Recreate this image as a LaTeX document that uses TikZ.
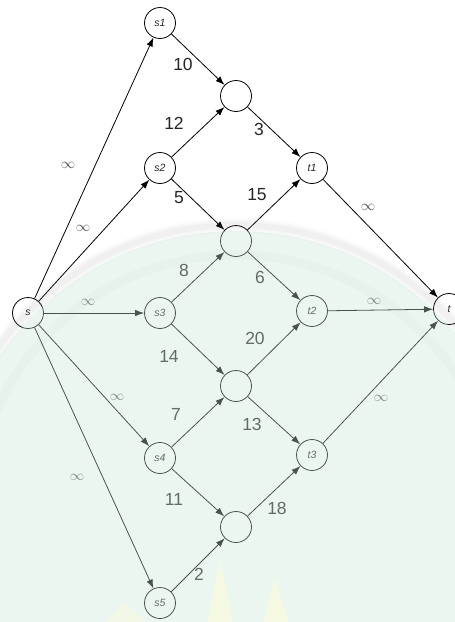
\documentclass[tikz,border=0pt]{standalone}
\usepackage{fontspec}
\setmainfont{Liberation Sans}
\usetikzlibrary{arrows.meta}
\definecolor{mint}{RGB}{200,232,214}
\definecolor{cream}{RGB}{255,252,215}
\begin{document}
\begin{tikzpicture}[x=1pt,y=-1pt,
  vtx/.style={circle,draw=black,line width=0.8pt,minimum size=31pt,inner sep=0pt,
    font=\fontsize{10.5}{12}\selectfont\itshape,text=black!85},
  edge/.style={line width=0.8pt,-{Latex[length=9pt,width=6.5pt]}},
  num/.style={font=\fontsize{17.5}{20}\selectfont,text=black!85,inner sep=0pt},
  inf/.style={font=\fontsize{14}{16}\selectfont,text=black!68,inner sep=0pt}]
\fill[white] (0,0) rectangle (455,622);
\useasboundingbox (0,0) rectangle (455,622);
% nodes
\node[vtx] (s)  at (28,313)  {s};
\node[vtx] (s1) at (160,23)  {s1};
\node[vtx] (s2) at (160,168) {s2};
\node[vtx] (s3) at (160,313) {s3};
\node[vtx] (s4) at (160,458) {s4};
\node[vtx] (s5) at (160,603) {s5};
\node[vtx] (a1) at (236,96)  {};
\node[vtx] (a2) at (236,241) {};
\node[vtx] (a3) at (236,386) {};
\node[vtx] (a4) at (236,527) {};
\node[vtx] (t1) at (312,168) {t1};
\node[vtx] (t2) at (312,311) {t2};
\node[vtx] (t3) at (312,455) {t3};
\node[vtx] (t)  at (449,309) {t};
% edges
\draw[edge] (s) -- (s1);
\draw[edge] (s) -- (s2);
\draw[edge] (s) -- (s3);
\draw[edge] (s) -- (s4);
\draw[edge] (s) -- (s5);
\draw[edge] (s1) -- (a1);
\draw[edge] (s2) -- (a1);
\draw[edge] (a1) -- (t1);
\draw[edge] (s2) -- (a2);
\draw[edge] (a2) -- (t1);
\draw[edge] (s3) -- (a2);
\draw[edge] (a2) -- (t2);
\draw[edge] (s3) -- (a3);
\draw[edge] (a3) -- (t2);
\draw[edge] (s4) -- (a3);
\draw[edge] (a3) -- (t3);
\draw[edge] (s4) -- (a4);
\draw[edge] (s5) -- (a4);
\draw[edge] (a4) -- (t3);
\draw[edge] (t1) -- (t);
\draw[edge] (t2) -- (t);
\draw[edge] (t3) -- (t);
% capacity labels
\node[num] (l10) at (183,64)  {10};
\node[num] (l12) at (174,123) {12};
\node[num] (l3)  at (259,129) {3};
\node[num] (l5)  at (179,198) {5};
\node[num] (l15) at (257,195) {15};
\node[num] (l8)  at (184,270) {8};
\node[num] (l6)  at (260,277) {6};
\node[num] (l20) at (255,338) {20};
\node[num] (l14) at (169,356) {14};
\node[num] (l7)  at (176,414) {7};
\node[num] (l13) at (252,424) {13};
\node[num] (l11) at (174,499) {11};
\node[num] (l18) at (277,508) {18};
\node[num] (l2)  at (199,574) {2};
\node[inf] (i1) at (68,165)  {$\infty$};
\node[inf] (i2) at (83,228)  {$\infty$};
\node[inf] (i3) at (88,302)  {$\infty$};
\node[inf] (i4) at (117,397) {$\infty$};
\node[inf] (i5) at (77,477)  {$\infty$};
\node[inf] (i6) at (368,207) {$\infty$};
\node[inf] (i7) at (374,301) {$\infty$};
\node[inf] (i8) at (381,398) {$\infty$};
% faint watermark tint
\begin{scope}
\clip (0,0) rectangle (455,622);
\fill[mint,fill opacity=0.36] (236,517) circle[radius=286];
\foreach \w/\o in {14/0.03,10/0.04,6/0.05}{
  \draw[black!45,draw opacity=\o,line width=\w pt] (236,517) circle[radius=292];}
\draw[black!45,draw opacity=0.035,line width=9pt] (236,517) circle[radius=262];
\fill[cream,fill opacity=0.55] (208,622) -- (213,590) -- (220,562) -- (227,592) -- (233,622) -- cycle;
\fill[cream,fill opacity=0.55] (264,622) -- (269,598) -- (275,578) -- (282,602) -- (289,622) -- cycle;
\fill[cream,fill opacity=0.4] (105,622) -- (125,602) -- (145,622) -- cycle;
\end{scope}
\end{tikzpicture}
\end{document}
